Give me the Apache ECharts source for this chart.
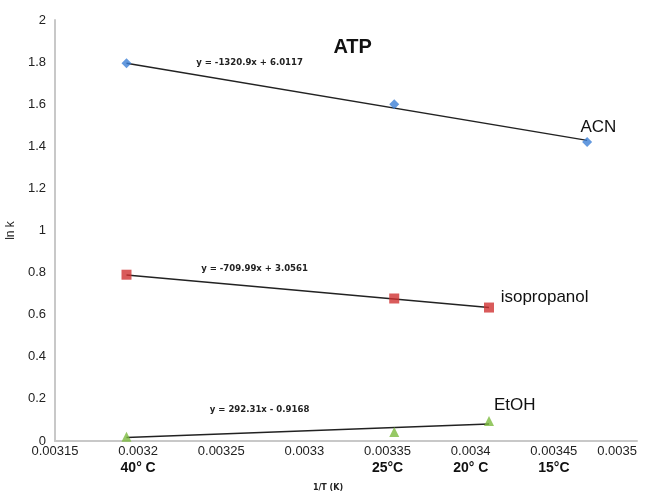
<!DOCTYPE html>
<html><head><meta charset="utf-8">
<script src="https://cdn.jsdelivr.net/npm/echarts@6/dist/echarts.min.js"></script>
<style>html,body{margin:0;padding:0;background:#fff}#c{width:654px;height:499px}</style>
</head><body><div id="c"></div>
<script>
// Data
const acnX = [0.003193, 0.003354, 0.00347];
const acnY = [1.795, 1.60, 1.42];
const isoX = [0.003193, 0.003354, 0.003411];
const isoY = [0.79, 0.677, 0.634];
const etohX = [0.003193, 0.003354, 0.003411];
const etohY = [0.02, 0.043, 0.095];
const slopes = [-1320.9, -709.99, 292.31];
const intercepts = [6.0117, 3.0561, -0.9168];
const equations = ['y = -1320.9x + 6.0117', 'y = -709.99x + 3.0561', 'y = 292.31x - 0.9168'];
const seriesNames = ['ACN', 'isopropanol', 'EtOH'];
const tempTicks = {'0.0032': '40° C', '0.00335': '25°C', '0.0034': '20° C', '0.00345': '15°C'};

const groups = [[acnX, acnY], [isoX, isoY], [etohX, etohY]];
const colors = ['#3c7fd6', '#cf3232', '#7cba3f'];
const symbols = ['diamond', 'rect', 'triangle'];
const sizes = [10, 10, 10];

const series = [];
groups.forEach((g, i) => {
  const xs = g[0];
  const x0 = xs[0], x1 = xs[xs.length - 1];
  series.push({
    type: 'line', name: seriesNames[i] + ' trend', symbol: 'none', silent: true,
    lineStyle: {color: '#222', width: 1.5}, z: 2,
    data: [[x0, slopes[i] * x0 + intercepts[i]], [x1, slopes[i] * x1 + intercepts[i]]]
  });
  series.push({
    type: 'scatter', name: seriesNames[i], symbol: symbols[i], symbolSize: sizes[i], z: 3,
    itemStyle: {color: colors[i]},
    data: xs.map((x, k) => [x, g[1][k]])
  });
});

const chart = echarts.init(document.getElementById('c'));
chart.setOption({
  animation: false,
  backgroundColor: '#fff',
  grid: {left: 55, right: 17, top: 20, bottom: 58, containLabel: false, outerBoundsMode: 'none'},
  xAxis: {
    type: 'value', min: 0.00315, max: 0.0035, interval: 0.00005,
    axisLine: {lineStyle: {color: '#c8c8c8', width: 2}},
    axisTick: {show: false}, splitLine: {show: false},
    axisLabel: {
      color: '#222', fontSize: 13, fontFamily: 'Liberation Sans, Arial', margin: 2, lineHeight: 17,
      showMaxLabel: true, showMinLabel: true, alignMaxLabel: 'right',
      formatter: v => {
        const s = String(+v.toFixed(5));
        return tempTicks[s] ? s + '\n{b|' + tempTicks[s] + '}' : s + '\n ';
      },
      rich: {b: {fontWeight: 'bold', fontSize: 14, color: '#111', fontFamily: 'Liberation Sans, Arial', lineHeight: 17}}
    },
    name: '1/T (K)', nameLocation: 'middle', nameGap: 43,
    nameTextStyle: {fontSize: 8, fontWeight: 'bold', color: '#222', fontFamily: 'DejaVu Sans', padding: [0, 36, 0, 0]}
  },
  yAxis: {
    type: 'value', min: 0, max: 2, interval: 0.2,
    axisLine: {show: true, lineStyle: {color: '#c8c8c8', width: 2}},
    axisTick: {show: false}, splitLine: {show: false},
    axisLabel: {color: '#222', fontSize: 13, fontFamily: 'Liberation Sans, Arial', margin: 9,
      formatter: v => String(+v.toFixed(1))},
    name: 'ln k', nameLocation: 'middle', nameGap: 22, nameRotate: 90,
    nameTextStyle: {fontSize: 12, color: '#222', fontFamily: 'Liberation Sans, Arial'}
  },
  series: series
});

function px(x, y) { return chart.convertToPixel({gridIndex: 0}, [x, y]); }
const graphics = [];
const tp = px(0.003329, 1.87);
graphics.push({type: 'text', x: tp[0], y: tp[1], style: {text: 'ATP', font: 'bold 20px Liberation Sans, Arial', fill: '#111', textAlign: 'center', textVerticalAlign: 'middle'}});
const eqPos = [[0.003267, 1.80], [0.00327, 0.82], [0.003273, 0.15]];
eqPos.forEach((p, i) => {
  const q = px(p[0], p[1]);
  graphics.push({type: 'text', x: q[0], y: q[1], style: {text: equations[i], font: 'bold 9.5px DejaVu Sans Condensed, DejaVu Sans', fill: '#222', textAlign: 'center', textVerticalAlign: 'middle'}});
});
const namePos = [[0.003466, 1.49], [0.003418, 0.684], [0.003414, 0.171]];
namePos.forEach((p, i) => {
  const q = px(p[0], p[1]);
  graphics.push({type: 'text', x: q[0], y: q[1], style: {text: seriesNames[i], font: '17px Liberation Sans, Arial', fill: '#111', textAlign: 'left', textVerticalAlign: 'middle'}});
});
chart.setOption({graphic: graphics});
</script>
</body></html>
